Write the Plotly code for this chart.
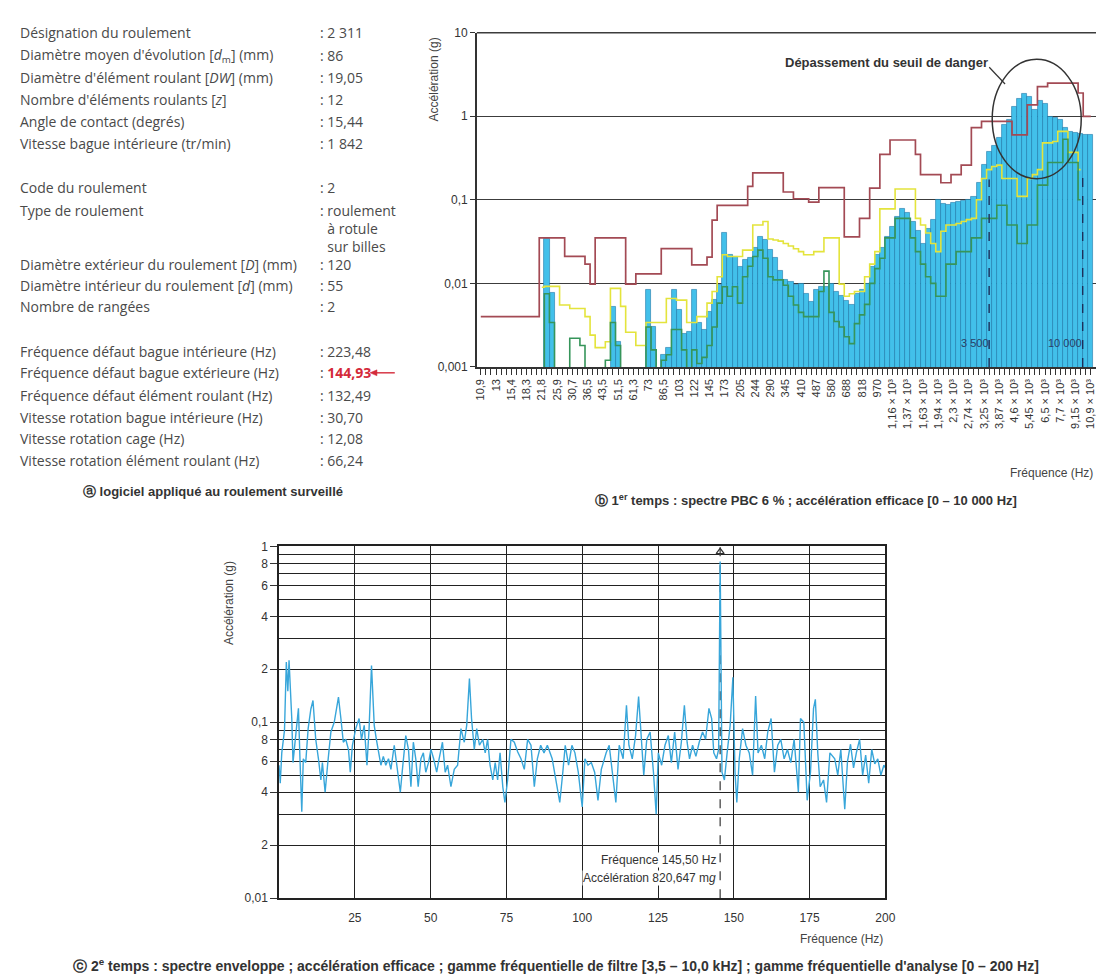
import plotly.graph_objects as go

W, H = 1104, 980

# ---------------- (b) spectre PBC 6 % : one value per 6 % band ----------------
b_tick_labels = ["10,9", "13", "15,4", "18,3", "21,8", "25,9", "30,7", "36,5", "43,5", "51,5",
                 "61,3", "73", "86,5", "103", "122", "145", "173", "205", "244", "290",
                 "345", "410", "487", "580", "688", "818", "970",
                 "1,16 × 10³", "1,37 × 10³", "1,63 × 10³", "1,94 × 10³", "2,3 × 10³",
                 "2,74 × 10³", "3,25 × 10³", "3,87 × 10³", "4,6 × 10³", "5,45 × 10³",
                 "6,5 × 10³", "7,7 × 10³", "9,15 × 10³", "10,9 × 10³"]

N = None
b_measured = [N, N, N, N, N, N, N, N, N, N, N, N, N, 0.034, 0.0078, N, N, N, N, N,
              N, N, N, N, N, N, 0.0052, 0.002, N, N, N, N, N, 0.0085, 0.003, N, 0.0014, 0.0017, 0.0085, 0.0048,
              0.0025, 0.0026, 0.0085, 0.0034, 0.0028, 0.0046, 0.0064, 0.0095, 0.04, 0.022,
              0.021, 0.016, 0.019, 0.02, 0.027, 0.036, 0.033, 0.025, 0.02, 0.014,
              0.011, 0.0105, 0.0095, 0.01, 0.0075, 0.006, 0.0085, 0.009, 0.0092, 0.01,
              0.008, 0.0072, 0.0062, 0.0056, 0.0075, 0.0085, 0.01, 0.016, 0.022, 0.027,
              0.036, 0.048, 0.062, 0.078, 0.07, 0.055, 0.043, 0.03, 0.045, 0.058,
              0.1, 0.09, 0.088, 0.092, 0.095, 0.098, 0.1, 0.11, 0.16, 0.26,
              0.38, 0.45, 0.55, 0.8, 0.9, 1.3, 1.6, 1.85, 1.7, 1.2,
              1.55, 1.4, 1.0, 0.95, 0.9, 0.72, 0.66, 0.64, 0.62, 0.6, 0.6]

b_danger = [0.004, 0.004, 0.004, 0.004, 0.004, 0.004, 0.004, 0.004, 0.004, 0.004, 0.004, 0.004,
            0.035, 0.035, 0.035, 0.035, 0.035, 0.021, 0.021, 0.021, 0.021, 0.017, 0.0098,
            0.035, 0.035, 0.035, 0.035, 0.035, 0.035, 0.0098, 0.0098,
            0.013, 0.013, 0.013, 0.013, 0.013, 0.026, 0.026, 0.026, 0.026, 0.026, 0.026,
            0.0166, 0.0166, 0.0166, 0.0206, 0.057, 0.086, 0.086, 0.086, 0.086, 0.086, 0.086,
            0.145, 0.21, 0.21, 0.21, 0.21, 0.21, 0.21, 0.124, 0.124, 0.103, 0.103, 0.103,
            0.094, 0.094, 0.14, 0.14, 0.14, 0.14, 0.14, 0.036, 0.036, 0.036, 0.06, 0.06,
            0.138, 0.138, 0.35, 0.35, 0.52, 0.52, 0.52, 0.52, 0.52, 0.35, 0.2, 0.2, 0.2, 0.2,
            0.16, 0.16, 0.2, 0.2, 0.26, 0.26, 0.73, 0.73, 0.87, 0.87, 0.87, 0.87, 0.87, 0.87,
            0.6, 0.6, 0.6, 1.37, 1.37, 2.26, 2.26, 2.5, 2.5, 2.5, 2.5, 2.5, 2.5, 1.9, 1.0, 1.0]

b_yellow = [N, N, N, N, N, N, N, N, N, N, N, N,
            0.009, 0.0092, 0.0092, 0.0092, 0.0055, 0.0055, 0.005, 0.005, 0.005, 0.004, 0.0024,
            0.0017, 0.0017, 0.002, 0.0087, 0.0087, 0.0053, 0.0026, 0.0026, 0.0018, 0.0018,
            0.0034, 0.0034, 0.0034, 0.0034, 0.0066, 0.0066, 0.0063, 0.0063, 0.0034, 0.0034,
            0.004, 0.004, 0.0058, 0.008, 0.012, 0.022, 0.021, 0.021, 0.021, 0.025, 0.025,
            0.05, 0.05, 0.055, 0.034, 0.033, 0.032, 0.03, 0.028, 0.026, 0.024, 0.022, 0.022,
            0.024, 0.024, 0.035, 0.035, 0.035, 0.0098, 0.007, 0.0075, 0.008, 0.008, 0.012,
            0.017, 0.024, 0.078, 0.078, 0.078, 0.135, 0.135, 0.135, 0.135, 0.06, 0.05, 0.04,
            0.03, 0.024, 0.042, 0.05, 0.05, 0.052, 0.055, 0.058, 0.06, 0.1, 0.18, 0.23, 0.25,
            0.26, 0.18, 0.18, 0.18, 0.11, 0.11, 0.18, 0.2, 0.23, 0.48, 0.48, 0.5, 0.66, 0.66,
            0.37, 0.37, 0.23, N, N]

b_green = [N, N, N, N, N, N, N, N, N, N, N, N,
           0.0008, 0.0075, 0.0034, 0.0008, 0.0008, 0.0008, 0.0022, 0.0022, 0.0018, 0.0008,
           0.0008, 0.0008, 0.0008, 0.0012, 0.0034, 0.0018, 0.0008, 0.0008, 0.0008, 0.0008,
           0.0008, 0.003, 0.0016, 0.0008, 0.0012, 0.0014, 0.0028, 0.0028, 0.0016, 0.0009,
           0.0016, 0.0011, 0.0013, 0.0018, 0.003, 0.0058, 0.0091, 0.007, 0.0091, 0.0058,
           0.012, 0.016, 0.021, 0.025, 0.02, 0.012, 0.011, 0.011, 0.0095, 0.007, 0.0055,
           0.0045, 0.004, 0.004, 0.004, 0.008, 0.014, 0.0045, 0.0035, 0.003, 0.0023, 0.0019,
           0.0033, 0.0042, 0.0056, 0.01, 0.015, 0.02, 0.035, 0.035, 0.06, 0.06, 0.06, 0.035,
           0.024, 0.017, 0.012, 0.01, 0.007, 0.007, 0.017, 0.017, 0.024, 0.024, 0.024, 0.035,
           0.035, 0.06, 0.06, 0.06, 0.086, 0.086, 0.05, 0.05, 0.03, 0.03, 0.05, 0.05, 0.15,
           0.15, 0.28, 0.28, 0.28, 0.53, 0.28, 0.28, 0.1, N, N]

band_index = list(range(len(b_measured)))
b_tick_pos = list(range(0, len(b_measured), 3))
b_marker_pos = [100.0, 118.4]       # 3 500 Hz and 10 000 Hz (band units)
b_marker_top = [0.175, 0.22]

# ---------------- (c) spectre enveloppe ----------------
c_freq = [0.0, 0.4, 0.9, 1.8, 2.4, 2.9, 3.3, 4.2, 4.6, 5.5, 6.4, 6.9, 7.5, 8.0, 8.8, 9.6, 10.5, 11.2,
          12.1, 13.0, 13.8, 14.3, 15.2, 16.0, 17.1, 18.2, 19.6, 20.4, 21.2, 22.0, 22.9, 23.5, 24.2,
          25.3, 26.4, 27.2, 28.1, 29.0, 29.7, 30.5, 31.4, 32.1, 32.8, 33.6, 34.4, 35.2, 36.1, 36.9,
          38.0, 39.1, 40.0, 40.7, 41.8, 42.7, 43.5, 44.3, 45.1, 45.9, 46.8, 47.6, 48.4, 49.3, 50.1,
          51.0, 52.0, 52.8, 53.9, 54.8, 55.6, 56.7, 57.8, 58.9, 60.0, 61.1, 61.9, 62.8, 63.5, 64.4,
          65.2, 66.1, 67.2, 68.0, 68.8, 69.6, 70.5, 71.3, 72.1, 72.9, 73.8, 74.5, 75.4, 76.5, 77.6,
          78.7, 79.8, 80.9, 82.0, 83.1, 84.2, 85.2, 86.3, 87.4, 88.5, 90.1, 91.7, 92.6, 93.6, 94.4,
          95.5, 96.6, 97.6, 98.7, 100.0, 100.9, 101.9, 103.0, 104.1, 105.2, 106.3, 107.9, 108.9,
          110.0, 111.1, 112.2, 113.5, 114.6, 115.4, 116.5, 117.6, 118.6, 119.5, 120.3, 121.3,
          122.4, 123.5, 124.4, 125.1, 126.2, 127.3, 128.4, 129.4, 130.5, 131.6, 132.7, 133.7,
          134.6, 135.4, 136.4, 137.5, 138.6, 139.7, 140.7, 141.8, 142.7, 143.4, 144.3, 145.0,
          145.5, 146.1, 146.9, 147.8, 148.8, 149.7, 150.4, 151.0, 151.8, 152.9, 154.0, 155.1,
          156.2, 157.2, 158.0, 159.1, 160.2, 161.2, 162.3, 163.4, 164.5, 165.5, 166.6, 167.7,
          168.8, 169.9, 171.3, 172.0, 173.1, 174.2, 175.3, 176.3, 176.9, 177.7, 178.5, 179.6,
          180.6, 181.7, 183.3, 184.3, 185.3, 186.6, 187.5, 188.5, 189.5, 190.5, 191.5, 192.5,
          193.5, 194.5, 195.5, 196.5, 197.5, 198.5, 199.5, 200.0]
c_acc = [0.057, 0.045, 0.067, 0.09, 0.22, 0.15, 0.225, 0.105, 0.059, 0.088, 0.12, 0.062, 0.031,
         0.062, 0.059, 0.092, 0.119, 0.133, 0.08, 0.062, 0.047, 0.059, 0.04, 0.057, 0.088, 0.1,
         0.139, 0.105, 0.077, 0.08, 0.07, 0.052, 0.074, 0.092, 0.105, 0.08, 0.096, 0.057, 0.092,
         0.21, 0.096, 0.08, 0.067, 0.057, 0.064, 0.057, 0.062, 0.054, 0.074, 0.054, 0.04, 0.054,
         0.084, 0.07, 0.043, 0.077, 0.062, 0.043, 0.062, 0.067, 0.052, 0.059, 0.07, 0.062, 0.052,
         0.062, 0.077, 0.052, 0.057, 0.043, 0.054, 0.057, 0.092, 0.077, 0.096, 0.177, 0.105,
         0.07, 0.092, 0.074, 0.08, 0.067, 0.08, 0.057, 0.047, 0.059, 0.047, 0.067, 0.043, 0.035,
         0.047, 0.08, 0.077, 0.068, 0.062, 0.054, 0.08, 0.074, 0.043, 0.062, 0.074, 0.067, 0.074,
         0.062, 0.043, 0.035, 0.052, 0.074, 0.057, 0.074, 0.067, 0.052, 0.033, 0.062, 0.057,
         0.059, 0.052, 0.036, 0.054, 0.067, 0.074, 0.052, 0.035, 0.074, 0.062, 0.125, 0.074,
         0.062, 0.084, 0.14, 0.074, 0.05, 0.08, 0.088, 0.052, 0.03, 0.067, 0.057, 0.074, 0.084,
         0.059, 0.088, 0.054, 0.077, 0.125, 0.077, 0.062, 0.074, 0.064, 0.077, 0.088, 0.08, 0.12,
         0.105, 0.067, 0.062, 0.07, 0.82, 0.052, 0.047, 0.067, 0.096, 0.18, 0.052, 0.035, 0.062,
         0.092, 0.074, 0.067, 0.05, 0.141, 0.067, 0.074, 0.062, 0.088, 0.105, 0.052, 0.074, 0.08,
         0.062, 0.07, 0.059, 0.08, 0.04, 0.105, 0.1, 0.036, 0.052, 0.12, 0.135, 0.067, 0.043,
         0.047, 0.035, 0.067, 0.062, 0.05, 0.07, 0.032, 0.06, 0.075, 0.055, 0.068, 0.08, 0.05,
         0.065, 0.045, 0.07, 0.058, 0.062, 0.05, 0.057, 0.055]
c_peak_freq = 145.5
c_y_ticks = [0.01, 0.02, 0.04, 0.06, 0.08, 0.1, 0.2, 0.4, 0.6, 0.8, 1]
c_y_text = ["0,01", "2", "4", "6", "8", "0,1", "2", "4", "6", "8", "1"]
c_y_minor = [0.03, 0.05, 0.07, 0.09, 0.3, 0.5, 0.7, 0.9]
c_x_ticks = [25, 50, 75, 100, 125, 150, 175, 200]

# ---------------- (a) texts ----------------
panel_rows = [
    ("Désignation du roulement", ": 2 311", 18),
    ("Diamètre moyen d'évolution [<i>d</i><sub>m</sub>] (mm)", ": 86", 41),
    ("Diamètre d'élément roulant [<i>DW</i>] (mm)", ": 19,05", 63),
    ("Nombre d'éléments roulants [<i>z</i>]", ": 12", 86),
    ("Angle de contact (degrés)", ": 15,44", 108),
    ("Vitesse bague intérieure (tr/min)", ": 1 842", 130),
    ("Code du roulement", ": 2", 175),
    ("Type de roulement", ": roulement", 198),
    ("", "  à rotule", 217),
    ("", "  sur billes", 235),
    ("Diamètre extérieur du roulement [<i>D</i>] (mm)", ": 120", 253),
    ("Diamètre intérieur du roulement [<i>d</i>] (mm)", ": 55", 274),
    ("Nombre de rangées", ": 2", 296),
    ("Fréquence défaut bague intérieure (Hz)", ": 223,48", 341),
    ("Fréquence défaut bague extérieure (Hz)",
     ": <b><span style='color:#d42a3a'>144,93</span></b>", 363),
    ("Fréquence défaut élément roulant (Hz)", ": 132,49", 386),
    ("Vitesse rotation bague intérieure (Hz)", ": 30,70", 408),
    ("Vitesse rotation cage (Hz)", ": 12,08", 430),
    ("Vitesse rotation élément roulant (Hz)", ": 66,24", 452),
]


def px(x):
    return x / W


def py(y):
    return 1 - y / H


fig = go.Figure()

# (b) traces
fig.add_trace(go.Bar(x=band_index, y=b_measured, xaxis="x", yaxis="y",
                     marker=dict(color="#42c0ea", line=dict(color="#1f78aa", width=0.6)),
                     hoverinfo="skip"))
fig.add_trace(go.Scatter(x=band_index, y=b_danger, mode="lines", xaxis="x", yaxis="y",
                         line=dict(color="#a34a54", width=1.7, shape="hvh")))
fig.add_trace(go.Scatter(x=band_index, y=b_yellow, mode="lines", xaxis="x", yaxis="y",
                         line=dict(color="#e4e43c", width=1.6, shape="hvh")))
fig.add_trace(go.Scatter(x=band_index, y=b_green, mode="lines", xaxis="x", yaxis="y",
                         line=dict(color="#36955a", width=1.6, shape="hvh")))
for xp, top in zip(b_marker_pos, b_marker_top):
    fig.add_trace(go.Scatter(x=[xp, xp], y=[0.001, top], mode="lines", xaxis="x", yaxis="y",
                             line=dict(color="#1e2f5a", width=1.4, dash="dash")))

# (c) traces
fig.add_trace(go.Scatter(x=[c_peak_freq, c_peak_freq], y=[0.01, 1], mode="lines",
                         xaxis="x2", yaxis="y2",
                         line=dict(color="#444444", width=1.3, dash="dash")))
fig.add_trace(go.Scatter(x=c_freq, y=c_acc, mode="lines", xaxis="x2", yaxis="y2",
                         line=dict(color="#38a6da", width=1.4)))
fig.add_trace(go.Scatter(x=[c_peak_freq], y=[0.93], mode="markers", xaxis="x2", yaxis="y2",
                         marker=dict(symbol="triangle-up-open", size=7, color="#333333",
                                     line=dict(width=1.2))))

font_chart = "Liberation Sans, Arial, sans-serif"

fig.update_layout(
    width=W, height=H, autosize=False,
    margin=dict(l=0, r=0, t=0, b=0),
    paper_bgcolor="white", plot_bgcolor="white",
    showlegend=False, bargap=0,
    font=dict(family=font_chart, color="#333333"),
    xaxis=dict(domain=[px(472), px(1104)], range=[-0.77, 122.2], anchor="y",
               tickmode="array", tickvals=b_tick_pos, ticktext=b_tick_labels,
               tickangle=-90, tickfont=dict(size=11, color="#333333"),
               ticks="outside", ticklen=6, tickwidth=1, tickcolor="#333333",
               minor=dict(tickvals=band_index, ticks="outside", ticklen=6, tickwidth=1,
                          tickcolor="#333333"),
               showgrid=False, zeroline=False, showline=True, linecolor="#333333",
               linewidth=1.5, fixedrange=True),
    yaxis=dict(domain=[py(357), py(18)], type="log", range=[-3, 1], anchor="x",
               tickmode="array", tickvals=[0.001, 0.01, 0.1, 1, 10],
               ticktext=["0,001", "0,01", "0,1", "1", "10"],
               tickfont=dict(size=12, color="#333333"),
               ticks="outside", ticklen=5, tickcolor="#333333",
               showgrid=True, gridcolor="#3c3c3c", gridwidth=1.3,
               zeroline=False, showline=True, linecolor="#333333", linewidth=1.5),
    xaxis2=dict(domain=[px(272), px(885)], range=[0, 200], anchor="y2",
                tickmode="array", tickvals=c_x_ticks, ticktext=[str(v) for v in c_x_ticks],
                tickfont=dict(size=12, color="#333333"), ticks="", ticklabelstandoff=8,
                showgrid=True, gridcolor="#222222", gridwidth=1.4,
                zeroline=False, showline=True, mirror=True, linecolor="#222222", linewidth=1.5),
    yaxis2=dict(domain=[py(896), py(539)], type="log", range=[-2, 0], anchor="x2",
                tickmode="array", tickvals=c_y_ticks, ticktext=c_y_text,
                tickfont=dict(size=12, color="#333333"),
                ticks="outside", ticklen=7, tickcolor="#333333",
                showgrid=True, gridcolor="#222222", gridwidth=1.4,
                minor=dict(tickvals=c_y_minor, showgrid=True, gridcolor="#222222",
                           gridwidth=1.4, ticks=""),
                zeroline=False, showline=True, mirror=True, linecolor="#222222", linewidth=1.5),
)

red = "#d42a3a"
shapes = [
    # top frame line of chart b (value 10)
    dict(type="line", xref="paper", yref="paper", x0=px(472), x1=px(1104), y0=py(18), y1=py(18),
         line=dict(color="#3c3c3c", width=1.5)),
    # danger ellipse and leader line
    dict(type="circle", xref="paper", yref="paper", x0=px(993), x1=px(1083), y0=py(166), y1=py(45),
         line=dict(color="#333333", width=1.5)),
    dict(type="line", xref="paper", yref="paper", x0=px(990), x1=px(1006), y0=py(53), y1=py(70),
         line=dict(color="#333333", width=1.2)),
    # red arrow pointing at 144,93
    dict(type="line", xref="paper", yref="paper", x0=px(370), x1=px(389), y0=py(363), y1=py(363),
         line=dict(color=red, width=1.4)),
    dict(type="path", xref="paper", yref="paper",
         path=f"M {px(364)} {py(363)} L {px(371)} {py(360)} L {px(371)} {py(366)} Z",
         fillcolor=red, line=dict(color=red, width=0.5)),
]
fig.update_layout(shapes=shapes)

ann = []
font_panel = "Open Sans, Liberation Sans, sans-serif"
for label, value, y in panel_rows:
    if label:
        ann.append(dict(text=label, x=px(8), y=py(y), xref="paper", yref="paper",
                        xanchor="left", yanchor="middle", showarrow=False,
                        font=dict(family=font_panel, size=14, color="#4a4a4a")))
    ann.append(dict(text=value, x=px(311), y=py(y), xref="paper", yref="paper",
                    xanchor="left", yanchor="middle", showarrow=False,
                    font=dict(family=font_panel, size=14, color="#4a4a4a")))

ann += [
    dict(text="<b>ⓐ logiciel appliqué au roulement surveillé</b>", x=px(72), y=py(483),
         xref="paper", yref="paper", xanchor="left", yanchor="middle", showarrow=False,
         font=dict(family=font_chart, size=13, color="#333333")),
    dict(text="<b>ⓑ 1<sup>er</sup> temps : spectre PBC 6 % ; accélération efficace [0 – 10 000 Hz]</b>",
         x=px(805), y=py(492), xref="paper", yref="paper", xanchor="center", yanchor="middle",
         showarrow=False, font=dict(family=font_chart, size=13, color="#333333")),
    dict(text="<b>ⓒ 2<sup>e</sup> temps : spectre enveloppe ; accélération efficace ; gamme fréquentielle "
              "de filtre [3,5 – 10,0 kHz] ; gamme fréquentielle d'analyse [0 – 200 Hz]</b>",
         x=px(552), y=py(964), xref="paper", yref="paper", xanchor="center", yanchor="middle",
         showarrow=False, font=dict(family=font_chart, size=14, color="#333333")),
    dict(text="Accélération (g)", x=px(429), y=py(65), xref="paper", yref="paper",
         xanchor="center", yanchor="middle", textangle=-90, showarrow=False,
         font=dict(family=font_chart, size=12, color="#444444")),
    dict(text="Fréquence (Hz)", x=px(1097), y=py(465), xref="paper", yref="paper",
         xanchor="right", yanchor="middle", showarrow=False,
         font=dict(family=font_chart, size=12, color="#444444")),
    dict(text="<b>Dépassement du seuil de danger</b>", x=px(991), y=py(48), xref="paper",
         yref="paper", xanchor="right", yanchor="middle", showarrow=False,
         font=dict(family=font_chart, size=13, color="#333333")),
    dict(text="3 500", x=px(992), y=py(333), xref="paper", yref="paper", xanchor="right",
         yanchor="middle", showarrow=False, font=dict(family=font_chart, size=11, color="#2a3f66")),
    dict(text="10 000", x=px(1086), y=py(333), xref="paper", yref="paper", xanchor="right",
         yanchor="middle", showarrow=False, font=dict(family=font_chart, size=11, color="#2a3f66")),
    dict(text="Accélération (g)", x=px(222), y=py(597), xref="paper", yref="paper",
         xanchor="center", yanchor="middle", textangle=-90, showarrow=False,
         font=dict(family=font_chart, size=12, color="#444444")),
    dict(text="Fréquence (Hz)", x=px(885), y=py(937), xref="paper", yref="paper",
         xanchor="right", yanchor="middle", showarrow=False,
         font=dict(family=font_chart, size=12, color="#444444")),
    dict(text="Fréquence 145,50 Hz", x=px(715), y=py(857), xref="paper", yref="paper",
         xanchor="right", yanchor="middle", showarrow=False, bgcolor="white", borderpad=0,
         font=dict(family=font_chart, size=12, color="#333333")),
    dict(text="Accélération 820,647 m<i>g</i>", x=px(715), y=py(875), xref="paper", yref="paper",
         xanchor="right", yanchor="middle", showarrow=False, bgcolor="white", borderpad=0,
         font=dict(family=font_chart, size=12, color="#333333")),
]
fig.update_layout(annotations=ann)

fig.write_html("out.html")
